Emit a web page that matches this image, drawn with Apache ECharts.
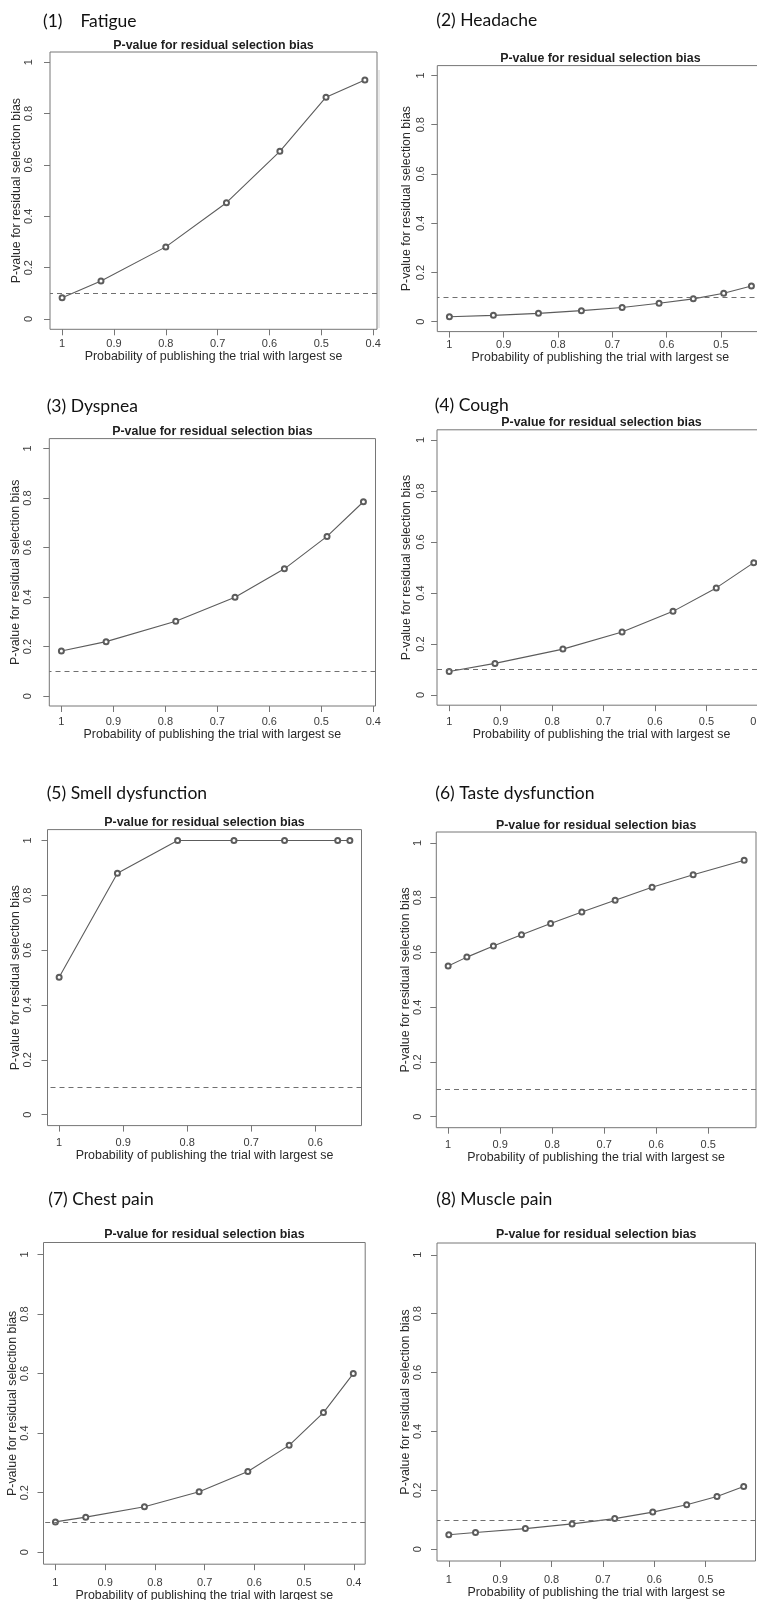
<!DOCTYPE html>
<html>
<head>
<meta charset="utf-8">
<script src="https://cdn.jsdelivr.net/npm/echarts@6/dist/echarts.min.js"></script>
<style>
  html, body { margin: 0; padding: 0; background: #ffffff; }
  #chart { width: 757px; height: 1600px; }
</style>
</head>
<body>
<div id="chart"></div>
<script>
// Sensitivity analysis: probability of publishing the trial with the largest SE
// against the p-value for residual selection bias, one panel per symptom.
const panelNames = ['(1)    Fatigue', '(2) Headache', '(3) Dyspnea', '(4) Cough',
                    '(5) Smell dysfunction', '(6) Taste dysfunction', '(7) Chest pain', '(8) Muscle pain'];

const fatigueProb = [1, 0.925, 0.800, 0.683, 0.580, 0.491, 0.416];
const fatigueP    = [0.083, 0.148, 0.281, 0.453, 0.653, 0.864, 0.931];

const headacheProb = [1, 0.919, 0.836, 0.757, 0.682, 0.614, 0.551, 0.495, 0.444];
const headacheP    = [0.020, 0.026, 0.034, 0.045, 0.058, 0.075, 0.093, 0.116, 0.145];

const dyspneaProb = [1, 0.914, 0.780, 0.666, 0.571, 0.489, 0.419];
const dyspneaP    = [0.182, 0.220, 0.302, 0.399, 0.514, 0.645, 0.785];

const coughProb = [1, 0.911, 0.779, 0.664, 0.565, 0.481, 0.408];
const coughP    = [0.092, 0.124, 0.180, 0.247, 0.328, 0.420, 0.519];

const smellProb = [1, 0.909, 0.815, 0.727, 0.648, 0.565, 0.546];
const smellP    = [0.501, 0.881, 1.000, 1.000, 1.000, 1.000, 1.000];

const tasteProb = [1, 0.964, 0.913, 0.859, 0.803, 0.743, 0.679, 0.608, 0.529, 0.431];
const tasteP    = [0.551, 0.583, 0.624, 0.665, 0.706, 0.748, 0.791, 0.838, 0.884, 0.937];

const chestProb = [1, 0.939, 0.821, 0.711, 0.613, 0.530, 0.461, 0.401];
const chestP    = [0.102, 0.118, 0.153, 0.203, 0.271, 0.359, 0.469, 0.600];

const muscleProb = [1, 0.948, 0.851, 0.760, 0.677, 0.603, 0.537, 0.478, 0.426];
const muscleP    = [0.049, 0.057, 0.070, 0.086, 0.104, 0.126, 0.151, 0.179, 0.213];

const probSeries = [fatigueProb, headacheProb, dyspneaProb, coughProb, smellProb, tasteProb, chestProb, muscleProb];
const pSeries    = [fatigueP, headacheP, dyspneaP, coughP, smellP, tasteP, chestP, muscleP];

const xTicks = [1, 0.9, 0.8, 0.7, 0.6, 0.5, 0.4];
const yTicks = [0, 0.2, 0.4, 0.6, 0.8, 1];
const pThreshold = 0.1;

const plotTitle = 'P-value for residual selection bias';
const xTitle = 'Probability of publishing the trial with largest se';
const yTitle = 'P-value for residual selection bias';

// Placement of each panel in the page (pixels).
// box: plot frame [left, top, right, bottom]; cap: caption [x, centre y]; tt: plot title centre y;
// xl / xt: centre y of x tick labels / x title; yl / yt: centre x of y tick labels / y title
const layout = [
  { box: [50, 52, 377, 329.3],        cap: [43, 21],       tt: 46,     xl: 344,  xt: 355.5,  yl: 29,    yt: 18.5 },
  { box: [437.3, 65.6, 763.5, 331.6], cap: [436.3, 20.5],  tt: 58.5,   xl: 345,  xt: 356,    yl: 421.3, yt: 406.8 },
  { box: [49.3, 438.6, 375.5, 706],   cap: [46.7, 406.3],  tt: 432,    xl: 722,  xt: 732.5,  yl: 28.3,  yt: 18.8 },
  { box: [437, 429.8, 766, 705.2],    cap: [434.7, 405.5], tt: 422.5,  xl: 722,  xt: 732,    yl: 420.7, yt: 406.8 },
  { box: [47.5, 829.6, 361.5, 1125.6],cap: [46.7, 793.5],  tt: 823,    xl: 1143, xt: 1155,   yl: 28.3,  yt: 17.2 },
  { box: [436.3, 832, 756, 1127.7],   cap: [435.3, 793.5], tt: 825.3,  xl: 1145, xt: 1156.5, yl: 418,   yt: 406.8 },
  { box: [43.5, 1242.5, 365.2, 1564.2], cap: [48.3, 1199], tt: 1235,   xl: 1583, xt: 1595,   yl: 25,    yt: 13.8 },
  { box: [437, 1243, 755.5, 1561],    cap: [436.3, 1199],  tt: 1235,   xl: 1580, xt: 1592,   yl: 418,   yt: 406.8 }
];

const FONT = '"Liberation Sans", Arial, Helvetica, sans-serif';
const TICK_FS = 11;
const NAME_FS = 12.4;
const INK = '#5c5c5c';
const FRAME = '#767676';

const grid = [], xAxis = [], yAxis = [], series = [], title = [];

probSeries.forEach((probs, i) => {
  const L = layout[i];
  const [l, t, r, b] = L.box;
  const ps = pSeries[i];

  grid.push({
    left: l, top: t, width: r - l, height: b - t,
    show: true, borderColor: FRAME, borderWidth: 1, backgroundColor: 'transparent',
    containLabel: false, outerBoundsMode: 'none'
  });

  // x range padded by 4% on each side, axis running from 1 down to the smallest probability
  const lo = Math.min(...probs), hi = Math.max(...probs);
  const pad = 0.04 * (hi - lo);
  const xmin = lo - pad, xmax = hi + pad;
  const xVisible = xTicks.filter(v => v >= xmin && v <= xmax);

  xAxis.push({
    gridIndex: i, type: 'value', inverse: true, min: xmin, max: xmax,
    name: xTitle, nameLocation: 'middle', nameGap: L.xt - b - NAME_FS / 2,
    nameTextStyle: { fontFamily: FONT, fontSize: NAME_FS, color: '#2a2a2a' },
    axisLine: { show: false, onZero: false },
    splitLine: { show: false },
    axisTick: { show: true, length: 6, lineStyle: { color: FRAME, width: 1 }, customValues: xVisible },
    axisLabel: {
      customValues: xVisible, margin: L.xl - b - TICK_FS / 2,
      fontFamily: FONT, fontSize: TICK_FS, color: '#3a3a3a',
      formatter: v => String(Math.round(v * 10) / 10)
    }
  });

  yAxis.push({
    gridIndex: i, type: 'value', min: -0.04, max: 1.04,
    name: yTitle, nameLocation: 'middle', nameGap: l - L.yt - NAME_FS / 2,
    nameTextStyle: { fontFamily: FONT, fontSize: NAME_FS, color: '#2a2a2a' },
    axisLine: { show: false, onZero: false },
    splitLine: { show: false },
    axisTick: { show: true, length: 6, lineStyle: { color: FRAME, width: 1 }, customValues: yTicks },
    axisLabel: {
      customValues: yTicks, rotate: 90, margin: l - L.yl - TICK_FS / 2,
      fontFamily: FONT, fontSize: TICK_FS, color: '#3a3a3a',
      formatter: v => String(Math.round(v * 10) / 10)
    }
  });

  series.push({
    type: 'line', xAxisIndex: i, yAxisIndex: i,
    data: probs.map((x, k) => [x, ps[k]]),
    symbol: 'emptyCircle', symbolSize: 5,
    lineStyle: { color: INK, width: 1.1 },
    itemStyle: { color: INK, borderColor: INK, borderWidth: 0.8 },
    markLine: {
      silent: true, symbol: ['none', 'none'], label: { show: false },
      lineStyle: { color: '#707070', type: [5, 4], width: 1 },
      data: [{ yAxis: pThreshold }]
    }
  });

  title.push({
    text: panelNames[i], left: L.cap[0], top: L.cap[1], padding: 0,
    textAlign: 'left', textVerticalAlign: 'middle',
    textStyle: { fontFamily: 'Lato, "Open Sans", sans-serif', fontSize: 17.5, fontWeight: 'normal', color: '#111111' }
  });
  title.push({
    text: plotTitle, left: (l + r) / 2, top: L.tt, padding: 0,
    textAlign: 'center', textVerticalAlign: 'middle',
    textStyle: { fontFamily: FONT, fontSize: NAME_FS, fontWeight: 'bold', color: '#1e1e1e' }
  });
});

const chart = echarts.init(document.getElementById('chart'), null, { renderer: 'canvas' });
chart.setOption({
  animation: false,
  backgroundColor: '#ffffff',
  title, grid, xAxis, yAxis, series,
  graphic: [{
    // faint frame edge beside the headache panel
    type: 'line', silent: true,
    shape: { x1: 379, y1: 70, x2: 379, y2: 328 },
    style: { stroke: '#d4d4d4', lineWidth: 1 }
  }]
});
</script>
</body>
</html>
